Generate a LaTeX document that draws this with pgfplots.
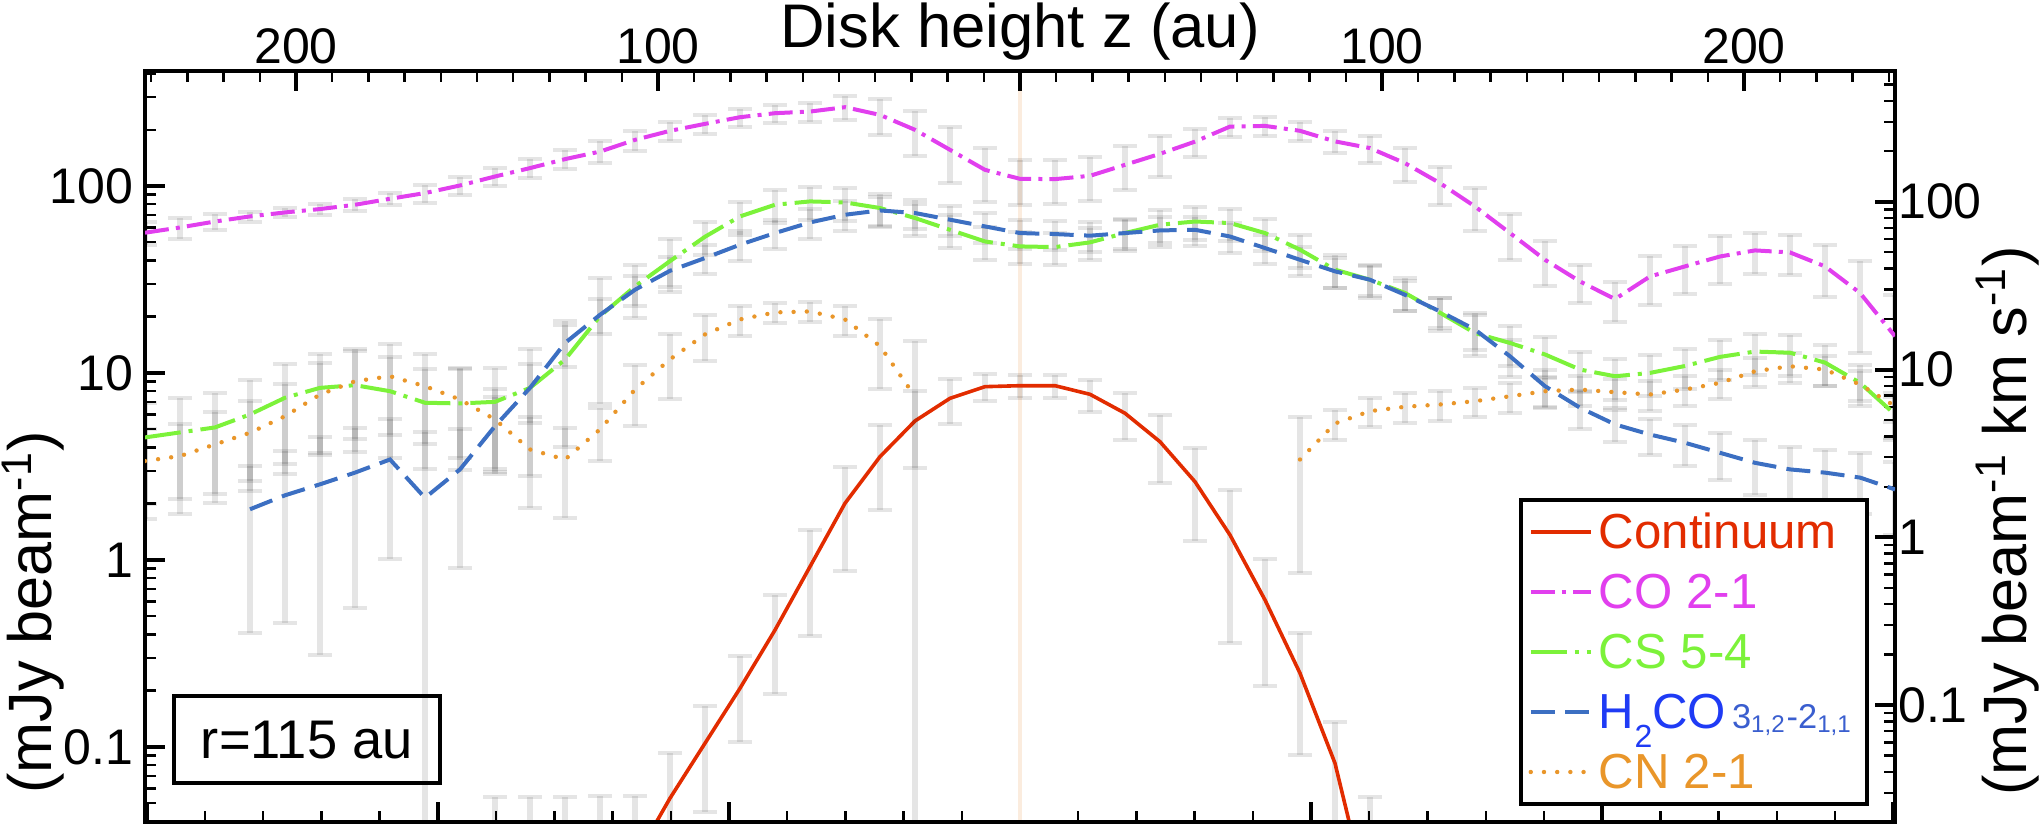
\documentclass[border=0pt]{standalone}
\usepackage{fontspec}
\setmainfont{Liberation Sans}
\usepackage{pgfplots}
\pgfplotsset{compat=1.18}
\usepackage{pgfplotstable}
\definecolor{contC}{HTML}{E22C00}
\definecolor{coC}{HTML}{E13FEE}
\definecolor{csC}{HTML}{7CF23A}
\definecolor{hC}{HTML}{3C6FC2}
\definecolor{hT}{HTML}{1F3BF5}
\definecolor{hT2}{HTML}{3A5ECF}
\definecolor{cnC}{HTML}{E9962A}
\definecolor{midC}{RGB}{251,236,222}

% Continuum (mJy/beam, left axis)
\pgfplotstableread{
z v ep em
-145.02 0.004 0.05 0.00399
-135.35 0.006 0.048 0.00599
-125.68 0.009 0.045 0.00899
-116.02 0.015 0.04 0.01499
-106.35 0.025 0.03 0.02499
-96.68 0.0532 0.04 0.04
-87.01 0.1047 0.06 0.06
-77.34 0.206 0.1 0.1
-67.68 0.422 0.23 0.23
-58.01 0.921 0.53 0.53
-48.34 2.01 1.14 1.14
-38.67 3.57 1.72 1.72
-29.00 5.54 2.45 2.45
-19.34 7.32 2.0 2.0
-9.67 8.45 1.4 1.4
0 8.55 1.2 1.2
9.67 8.55 1.2 1.2
19.34 7.69 1.5 1.5
29.00 6.09 1.7 1.7
38.67 4.29 1.7 1.7
48.34 2.62 1.35 1.35
58.01 1.36 1.0 1.0
67.68 0.611 0.4 0.4
77.34 0.248 0.157 0.157
87.01 0.0818 0.055 0.055
96.68 0.0138 0.04 0.0137
}\tcont

% CO 2-1 (mJy/beam km/s, right axis)
\pgfplotstableread{
z v ep em
-241.70 65.4 10 10
-232.03 70.3 10 10
-222.36 76.3 8 8
-212.70 81.8 5.5 5.5
-203.03 86.4 5 5
-193.36 90.5 7 7
-183.69 96.0 8 8
-174.02 104.2 9 9
-164.36 112.7 14 14
-154.69 125.1 16 16
-145.02 141.5 18 18
-135.35 158.8 20 20
-125.68 179.6 23 23
-116.02 199.2 30 30
-106.35 233.9 32 32
-96.68 264.8 35 35
-87.01 291.3 37 37
-77.34 319.3 40 40
-67.68 337.3 42 42
-58.01 345 45 45
-48.34 366.4 60 60
-38.67 329.5 80 80
-29.00 268.4 80 80
-19.34 204.0 75 75
-9.67 155.0 55 55
0 137.0 41 41
9.67 136.5 40 40
19.34 142.8 42 42
29.00 166.1 49 49
38.67 193.1 52 52
48.34 228.4 44 44
58.01 280.7 37 37
67.68 283.3 37 37
77.34 264.8 35 35
87.01 229.1 35 35
96.68 208.9 38 38
106.35 169.8 38 38
116.02 129.1 33 33
125.68 93.7 27 27
135.35 65.1 20 20
145.02 45.1 13.5 13.5
154.69 33.5 8.5 8.5
164.36 26.3 7 7
174.02 35.9 11.5 11.5
183.69 41.2 13 13
193.36 47.2 15 15
203.03 51.3 14 14
212.70 49.9 13.5 13.5
222.36 41.2 14 14
232.03 28.6 16 16
241.70 15.8 12 12
}\tco

% CS 5-4
\pgfplotstableread{
z v ep em
-241.70 3.94 2.36 2.36
-232.03 4.22 2.53 2.53
-222.36 4.52 2.71 2.71
-212.70 5.40 3.24 3.24
-203.03 6.79 4.07 4.07
-193.36 7.78 4.67 4.67
-183.69 8.07 4.84 4.84
-174.02 7.43 4.46 4.46
-164.36 6.34 3.80 3.80
-154.69 6.28 3.77 3.77
-145.02 6.42 3.85 3.85
-135.35 7.78 5.45 5.45
-125.68 11.47 8.03 8.03
-116.02 20.8 14.56 14.56
-106.35 31.3 10.96 10.96
-96.68 44.3 15.5 15.5
-87.01 61.9 13.6 13.6
-77.34 81.8 18.0 18.0
-67.68 96.0 21.1 21.1
-58.01 100.5 22.1 22.1
-48.34 99.1 21.8 21.8
-38.67 91.8 20.2 20.2
-29.00 80.0 17.6 17.6
-19.34 68.1 15.0 15.0
-9.67 58.0 12.8 12.8
0 54.2 11.9 11.9
9.67 53.7 11.8 11.8
19.34 57.3 12.6 12.6
29.00 65.1 14.3 14.3
38.67 73.0 16.1 16.1
48.34 76.3 16.8 16.8
58.01 74.7 16.4 16.4
67.68 65.1 14.3 14.3
77.34 51.8 11.4 11.4
87.01 39.4 8.7 8.7
96.68 34.3 7.5 7.5
106.35 28.6 6.3 6.3
116.02 21.8 4.8 4.8
125.68 16.5 4.5 4.5
135.35 14.4 3.9 3.9
145.02 12.3 3.3 3.3
154.69 10.0 2.7 2.7
164.36 9.12 2.5 2.5
174.02 9.55 2.6 2.6
183.69 10.5 2.8 2.8
193.36 11.9 3.2 3.2
203.03 12.8 3.5 3.5
212.70 12.6 3.4 3.4
222.36 11.0 3.0 3.0
232.03 8.34 2.3 2.3
241.70 5.40 1.5 1.5
}\tcs

% H2CO 3(1,2)-2(1,1)
\pgfplotstableread{
z v ep em
-212.70 1.47 1.2 1.2
-203.03 1.78 1.47 1.47
-193.36 2.07 1.87 1.87
-183.69 2.43 2.05 2.05
-174.02 2.91 2.17 2.17
-164.36 1.72 2.5 1.718
-154.69 2.54 1.88 1.88
-145.02 4.60 2.23 2.23
-135.35 7.78 3.0 3.0
-125.68 14.4 4.0 4.0
-116.02 21.2 5.0 5.0
-106.35 29.9 6.0 6.0
-96.68 38.8 7.8 7.8
-87.01 46.2 9.2 9.2
-77.34 55.5 11.1 11.1
-67.68 65.1 13.0 13.0
-58.01 75.3 15.1 15.1
-48.34 83.7 16.7 16.7
-38.67 88.8 17.8 17.8
-29.00 85.7 17.1 17.1
-19.34 78.2 15.6 15.6
-9.67 71.3 14.3 14.3
0 65.1 13.0 13.0
9.67 64.2 12.8 12.8
19.34 62.8 12.6 12.6
29.00 65.1 13.0 13.0
38.67 67.5 13.5 13.5
48.34 68.1 13.6 13.6
58.01 62.1 12.4 12.4
67.68 53.0 10.6 10.6
77.34 45.1 9.0 9.0
87.01 38.5 7.7 7.7
96.68 34.3 6.9 6.9
106.35 27.9 5.6 5.6
116.02 22.2 4.4 4.4
125.68 17.3 4.3 4.3
135.35 12.0 3.0 3.0
145.02 7.96 2.0 2.0
154.69 5.92 1.5 1.5
164.36 4.71 1.0 1.0
174.02 4.10 1.0 1.0
183.69 3.66 1.0 1.0
193.36 3.19 1.0 1.0
203.03 2.78 1.0 1.0
212.70 2.54 0.9 0.9
222.36 2.43 0.9 0.9
232.03 2.27 0.9 0.9
241.70 1.93 0.9 0.9
}\th

% CN 2-1, left part
\pgfplotstableread{
z v ep em
-241.70 2.85 1.57 1.57
-232.03 3.05 1.68 1.68
-222.36 3.58 1.97 1.97
-212.70 4.20 2.31 2.31
-203.03 5.27 2.90 2.90
-193.36 7.10 3.91 3.91
-183.69 8.52 4.69 4.69
-174.02 9.12 5.02 5.02
-164.36 7.96 4.38 4.38
-154.69 6.63 3.65 3.65
-145.02 5.04 2.6 2.6
-135.35 3.34 1.84 1.84
-125.68 2.91 1.6 1.6
-116.02 4.40 1.54 1.54
-106.35 7.60 3.0 3.0
-96.68 11.5 4.8 4.8
-87.01 16.2 4.9 4.9
-77.34 19.9 4.1 4.1
-67.68 21.9 3.0 3.0
-58.01 22.2 3.0 3.0
-48.34 19.9 4.1 4.1
-38.67 13.8 6.1 6.1
-29.00 6.91 7.9 6.9
}\tcna

% CN 2-1, right part
\pgfplotstableread{
z v ep em
77.34 2.91 2.3 2.3
87.01 4.77 0.95 0.95
96.68 5.65 1.13 1.13
106.35 6.00 1.2 1.2
116.02 6.19 1.24 1.24
125.68 6.48 1.3 1.3
135.35 6.93 1.39 1.39
145.02 7.43 1.49 1.49
154.69 7.60 1.52 1.52
164.36 7.33 1.47 1.47
174.02 7.10 1.42 1.42
183.69 7.60 1.52 1.52
193.36 8.33 1.67 1.67
203.03 9.77 1.95 1.95
212.70 10.46 2.09 2.09
222.36 10.0 2.0 2.0
232.03 8.14 1.63 1.63
241.70 6.05 1.21 1.21
}\tcnb

\tikzset{
  lcont/.style={draw=contC, line width=0.9pt, solid},
  lco/.style={draw=coC, line width=1pt, dash pattern=on 6pt off 1.8pt on 1pt off 1.8pt},
  lcs/.style={draw=csC, line width=1pt, dash pattern=on 9pt off 2pt on 1pt off 2pt},
  lh/.style={draw=hC, line width=1pt, dash pattern=on 6pt off 2.6pt},
  lcn/.style={draw=cnC, line width=1.1pt, line cap=round, dash pattern=on 0pt off 3.3pt},
}
\pgfplotsset{
  myebar/.style={forget plot, draw=none, mark=none,
    error bars/.cd, y dir=both, y explicit, error mark=|,
    error bar style={draw=black, opacity=0.1, line width=1.3pt},
    error mark options={draw=black, opacity=0.1, line width=1pt, mark size=3pt}},
}

\begin{document}
\begin{tikzpicture}
\useasboundingbox (-36.25pt,-2.75pt) rectangle (474pt,205.5pt);

\begin{semilogyaxis}[
  scale only axis, width=437.5pt, height=187.75pt,
  at={(0pt,0pt)}, anchor=south west,
  xmin=-241.7, xmax=241.7,
  tick align=inside,
  major tick length=5pt, minor tick length=2.75pt,
  axis line style={line width=1pt},
  major tick style={line width=1pt, black},
  minor tick style={line width=0.6pt, black},
  ymin=0.0397, ymax=412,
  xtick pos=left, ytick pos=left, yticklabel pos=left,
  xtick={-241.2,-160.8,-80.4,0,80.4,160.8,241.2}, xticklabels={},
  minor xtick={-225.12,-209.04,-192.96,-176.88,-144.72,-128.64,-112.56,-96.48,-64.32,-48.24,-32.16,-16.08,16.08,32.16,48.24,64.32,96.48,112.56,128.64,144.72,176.88,192.96,209.04,225.12},
  ytick={0.1,1,10,100}, yticklabels={0.1,1,10,100},
  minor ytick={0.05,0.06,0.07,0.08,0.09,0.2,0.3,0.4,0.5,0.6,0.7,0.8,0.9,2,3,4,5,6,7,8,9,20,30,40,50,60,70,80,90,200,300,400},
  yticklabel style={font=\fontsize{12.5}{14}\selectfont, anchor=east, inner sep=0pt, xshift=-2.75pt},
]
\addplot[forget plot, draw=midC, line width=1pt] coordinates {(0,0.0397) (0,412)};
\addplot[myebar] table[x=z,y=v,y error plus=ep,y error minus=em]{\tcont};
\addplot[lcont] table[x=z,y=v]{\tcont};
\end{semilogyaxis}

\begin{semilogyaxis}[
  scale only axis, width=437.5pt, height=187.75pt,
  at={(0pt,0pt)}, anchor=south west,
  xmin=-241.7, xmax=241.7,
  tick align=inside,
  major tick length=5pt, minor tick length=2.75pt,
  axis line style={line width=1pt},
  major tick style={line width=1pt, black},
  minor tick style={line width=0.6pt, black},
  ymin=0.0201, ymax=602,
  xtick pos=right, xticklabel pos=right, ytick pos=right, yticklabel pos=right,
  xtick={-200,-100,0,100,200}, xticklabels={200,100,,100,200},
  minor xtick={-240,-230,...,240},
  xticklabel style={font=\fontsize{12.5}{14}\selectfont, anchor=south, inner sep=0pt, yshift=1.5pt},
  ytick={0.1,1,10,100}, yticklabels={0.1,1,10,100},
  minor ytick={0.03,0.04,0.05,0.06,0.07,0.08,0.09,0.2,0.3,0.4,0.5,0.6,0.7,0.8,0.9,2,3,4,5,6,7,8,9,20,30,40,50,60,70,80,90,200,300,400,500,600},
  yticklabel style={font=\fontsize{12.5}{14}\selectfont, anchor=west, inner sep=0pt, xshift=0.6pt},
  legend style={at={(0.985,0.0213)}, anchor=south east, draw=black, line width=1pt,
    fill=white, font=\fontsize{12.3}{14}\selectfont, row sep=0pt,
    inner xsep=2pt, inner ysep=0.5pt,
    nodes={inner ysep=0pt, inner xsep=1.5pt, text height=11.5pt, text depth=3.5pt}},
  legend cell align=left,
  legend image code/.code={\draw[#1] (0pt,0pt) -- (15pt,0pt);},
]
\addplot[myebar] table[x=z,y=v,y error plus=ep,y error minus=em]{\tco};
\addplot[myebar] table[x=z,y=v,y error plus=ep,y error minus=em]{\tcs};
\addplot[myebar] table[x=z,y=v,y error plus=ep,y error minus=em]{\th};
\addplot[myebar] table[x=z,y=v,y error plus=ep,y error minus=em]{\tcna};
\addplot[myebar] table[x=z,y=v,y error plus=ep,y error minus=em]{\tcnb};

\addlegendimage{lcont}
\addlegendentry{\textcolor{contC}{Continuum}}
\addplot[lco] table[x=z,y=v]{\tco};
\addlegendentry{\textcolor{coC}{CO 2-1}}
\addplot[lcs] table[x=z,y=v]{\tcs};
\addlegendentry{\textcolor{csC}{CS 5-4}}
\addplot[lh] table[x=z,y=v]{\th};
\addlegendentry{\textcolor{hT}{H\raisebox{-0.4em}{\fontsize{8}{9}\selectfont 2}CO}\hspace{1.5pt}\textcolor{hT2}{\fontsize{8.6}{10}\selectfont 3\textsubscript{1,2}-2\textsubscript{1,1}}}
\addplot[lcn] table[x=z,y=v]{\tcna};
\addlegendentry{\textcolor{cnC}{CN 2-1}}
\addplot[lcn, forget plot] table[x=z,y=v]{\tcnb};
\end{semilogyaxis}

\node[anchor=base, font=\fontsize{15.4}{18}\selectfont] at (218.75pt,193.5pt) {Disk height z (au)};
\node[rotate=90, anchor=base west, font=\fontsize{15.3}{18}\selectfont] at (-23.25pt,3.5pt) {(mJy beam\textsuperscript{-1})};
\node[rotate=90, anchor=base west, font=\fontsize{15.3}{18}\selectfont] at (470.25pt,3pt) {(mJy beam\textsuperscript{-1} km s\textsuperscript{-1})};
\node[draw, line width=1pt, minimum width=66.5pt, minimum height=21.75pt, inner sep=0pt,
      font=\fontsize{13.6}{16}\selectfont] at (40.5pt,20.6pt) {r=115 au};
\end{tikzpicture}
\end{document}
